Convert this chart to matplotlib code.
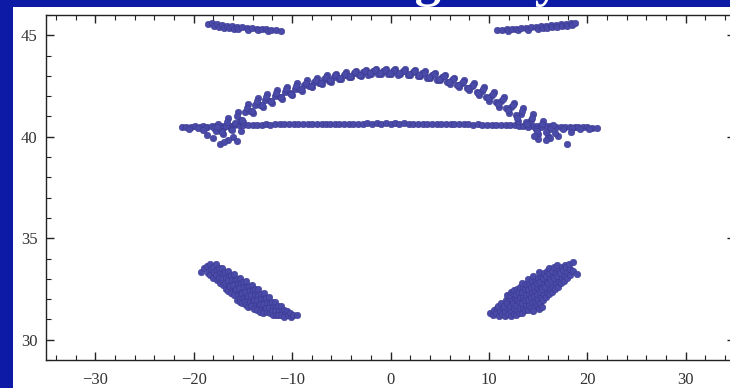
import matplotlib
matplotlib.use("Agg")
import matplotlib.pyplot as plt
from matplotlib.patches import Rectangle
from matplotlib.ticker import MultipleLocator

# ---- data ----
line_x = [-21.2, -20.8, -20.3, -19.9, -19.4, -19.0, -18.6, -18.1, -17.7, -17.2, -16.8, -16.3,
          -15.9, -15.4, -15.0, -14.5, -14.0, -13.6, -13.1, -12.6, -12.2, -11.7, -11.2, -10.8,
          -10.3, -9.8, -9.4, -8.9, -8.4, -8.0, -7.5, -7.0, -6.6, -6.1, -5.6, -5.2, -4.7, -4.2,
          -3.8, -3.3, -2.8, -2.4, -1.9, -1.4, -1.0, -0.5, 0.0, 0.5, 0.9, 1.4, 1.9, 2.3, 2.8,
          3.3, 3.7, 4.2, 4.7, 5.1, 5.6, 6.1, 6.5, 7.0, 7.5, 7.9, 8.4, 8.9, 9.3, 9.8, 10.3,
          10.7, 11.2, 11.7, 12.1, 12.6, 13.1, 13.5, 14.0, 14.5, 14.9, 15.4, 15.9, 16.3, 16.8,
          17.3, 17.7, 18.2, 18.7, 19.1, 19.6, 20.0, 20.5, 21.0,
          -20.5, -19.6, -18.8, -17.9, -17.0, 17.5, 18.4, 19.3, 20.2]
line_y = [40.48, 40.50, 40.47, 40.51, 40.49, 40.52, 40.50, 40.53, 40.51, 40.54, 40.52, 40.55,
          40.56, 40.58, 40.57, 40.59, 40.58, 40.60, 40.59, 40.61, 40.60, 40.62, 40.61, 40.62,
          40.61, 40.63, 40.62, 40.63, 40.62, 40.64, 40.63, 40.64, 40.63, 40.64, 40.65, 40.64,
          40.65, 40.64, 40.65, 40.64, 40.65, 40.66, 40.65, 40.66, 40.65, 40.66, 40.65, 40.66,
          40.65, 40.66, 40.65, 40.65, 40.64, 40.65, 40.64, 40.64, 40.63, 40.64, 40.63, 40.63,
          40.62, 40.62, 40.61, 40.62, 40.60, 40.61, 40.59, 40.60, 40.58, 40.59, 40.57, 40.58,
          40.56, 40.57, 40.55, 40.54, 40.55, 40.53, 40.54, 40.52, 40.51, 40.52, 40.50, 40.49,
          40.50, 40.48, 40.47, 40.48, 40.46, 40.47, 40.45, 40.44,
          40.40, 40.42, 40.43, 40.41, 40.45, 40.40, 40.41, 40.39, 40.38]

arc_x = [-18.0, -17.0, -16.0, -15.0, -14.0, -13.0, -12.0, -11.0, -10.0, -9.0, -8.0, -7.0,
         -6.0, -5.0, -4.0, -3.0, -2.0, -1.0, 0.0, 1.0, 2.0, 3.0, 4.0, 5.0, 6.0, 7.0, 8.0,
         9.0, 10.0, 11.0, 12.0, 13.0, 14.0, 15.0, 16.0, 17.0,
         -17.5, -16.5, -15.5, -14.5, -13.5, -12.5, -11.5, -10.5, -9.5, -8.5, -7.5, -6.5,
         -5.5, -4.5, -3.5, -2.5, -1.5, -0.5, 0.5, 1.5, 2.5, 3.5, 4.5, 5.5, 6.5, 7.5, 8.5,
         9.5, 10.5, 11.5, 12.5, 13.5, 14.5, 15.5, 16.5,
         -17.75, -16.75, -15.75, -14.75, -13.75, -12.75, -11.75, -10.75, -9.75, -8.75,
         -7.75, -6.75, -5.75, -4.75, -3.75, -2.75, -1.75, -0.75, 0.25, 1.25, 2.25, 3.25,
         4.25, 5.25, 6.25, 7.25, 8.25, 9.25, 10.25, 11.25, 12.25, 13.25, 14.25, 15.25, 16.25,
         -17.25, -16.25, -15.25, -14.25, -13.25, -12.25, -11.25, -10.25, -9.25, -8.25,
         -7.25, -6.25, -5.25, -4.25, -3.25, -2.25, -1.25, -0.25, 0.75, 1.75, 2.75, 3.75,
         4.75, 5.75, 6.75, 7.75, 8.75, 9.75, 10.75, 11.75, 12.75, 13.75, 14.75, 15.75, 16.75,
         -17.6, -16.6, -15.6, -14.6, -13.6, -12.6, -11.6, -10.6, -9.6, -8.6, -7.6, -6.6,
         -5.6, -4.6, -3.6, -2.6, -1.6, -0.6, 0.4, 1.4, 2.4, 3.4, 4.4, 5.4, 6.4, 7.4, 8.4,
         9.4, 10.4, 11.4, 12.4, 13.4, 14.4, 15.4,
         -17.1, -16.1, -15.1, -14.1, -13.1, -12.1, -11.1, -10.1, -9.1, -8.1, -7.1, -6.1,
         -5.1, -4.1, -3.1, -2.1, -1.1, -0.1, 0.9, 1.9, 2.9, 3.9, 4.9, 5.9, 6.9, 7.9, 8.9,
         9.9, 10.9, 11.9, 12.9, 13.9, 14.9,
         -17.3, -15.6, -16.5, 17.9, 16.2, -18.6, -19.0, 18.3, 15.0, 15.8, 14.6, -16.9, -15.2]
arc_y = [39.95, 40.15, 40.00, 40.75, 41.18, 41.47, 41.67, 41.88, 42.05, 42.27, 42.44, 42.60,
         42.72, 42.85, 42.96, 43.01, 43.07, 43.09, 43.09, 43.07, 43.04, 42.98, 42.90, 42.78,
         42.60, 42.44, 42.28, 42.05, 41.78, 41.49, 41.15, 40.77, 40.48, 40.12, 40.03, 40.05,
         40.65, 40.93, 41.23, 41.63, 41.92, 42.13, 42.32, 42.47, 42.64, 42.80, 42.92, 43.03,
         43.11, 43.20, 43.26, 43.31, 43.34, 43.35, 43.34, 43.33, 43.29, 43.23, 43.16, 43.06,
         42.92, 42.80, 42.63, 42.43, 42.21, 41.98, 41.68, 41.42, 41.10, 40.77, 40.60,
         40.30, 40.55, 40.70, 41.20, 41.58, 41.82, 42.02, 42.20, 42.37, 42.56,
         42.70, 42.85, 42.95, 43.05, 43.14, 43.19, 43.24, 43.26, 43.26, 43.24, 43.20, 43.14,
         43.06, 42.95, 42.80, 42.65, 42.48, 42.27, 42.03, 41.78, 41.46, 41.12, 40.85, 40.50, 40.38,
         40.30, 40.40, 40.85, 41.25, 41.55, 41.78, 41.98, 42.15, 42.33, 42.50,
         42.63, 42.75, 42.85, 42.95, 43.02, 43.06, 43.08, 43.08, 43.06, 43.04, 42.98, 42.92,
         42.82, 42.70, 42.55, 42.40, 42.20, 41.95, 41.70, 41.40, 41.07, 40.75, 40.40, 40.25, 40.20,
         40.47, 40.74, 41.00, 41.43, 41.75, 41.97, 42.17, 42.34, 42.50, 42.67, 42.81, 42.93,
         43.02, 43.11, 43.19, 43.24, 43.27, 43.28, 43.27, 43.25, 43.23, 43.16, 43.09, 42.98,
         42.84, 42.70, 42.54, 42.33, 42.10, 41.85, 41.55, 41.25, 40.94, 40.62,
         40.25, 40.32, 40.82, 41.26, 41.55, 41.75, 41.96, 42.13, 42.33, 42.50, 42.66, 42.78,
         42.89, 43.00, 43.06, 43.12, 43.14, 43.14, 43.12, 43.10, 43.04, 42.96, 42.85, 42.69,
         42.54, 42.38, 42.16, 41.91, 41.63, 41.31, 40.94, 40.65, 40.30,
         39.65, 39.80, 39.85, 39.65, 39.95, 40.10, 40.35, 40.25, 39.90, 39.85, 40.05, 39.75, 40.30]

left_blob_x = [-19.3, -18.9, -18.6, -18.52, -18.3, -18.22, -18.36, -18.0, -17.92, -18.06,
               -17.7, -17.62, -17.76, -17.6, -17.4, -17.32, -17.46, -17.3,
               -17.1, -17.02, -17.16, -17.0, -16.8, -16.72, -16.86, -16.7,
               -16.5, -16.42, -16.56, -16.4, -16.54, -16.2, -16.12, -16.26, -16.1, -16.24,
               -15.9, -15.82, -15.96, -15.8, -15.94, -15.6, -15.52, -15.66, -15.5, -15.64,
               -15.3, -15.22, -15.36, -15.2, -15.34, -15.25, -15.0, -14.92, -15.06, -14.9, -15.04,
               -14.7, -14.62, -14.76, -14.6, -14.74, -14.65, -14.4, -14.32, -14.46, -14.3, -14.44,
               -14.1, -14.02, -14.16, -14.0, -14.14, -13.8, -13.72, -13.86, -13.7, -13.84,
               -13.5, -13.42, -13.56, -13.4, -13.54, -13.2, -13.12, -13.26, -13.1, -13.24,
               -12.9, -12.82, -12.96, -12.8, -12.94, -12.6, -12.52, -12.66, -12.5,
               -12.3, -12.22, -12.36, -12.2, -12.0, -11.92, -12.06, -11.9,
               -11.7, -11.62, -11.76, -11.6, -11.4, -11.32, -11.46, -11.1, -11.02, -11.16,
               -10.8, -10.72, -10.86, -10.5, -10.42, -10.2, -10.12, -9.9, -9.5]
left_blob_y = [33.33, 33.52, 33.62, 33.30, 33.74, 33.47, 33.18, 33.60, 33.33, 33.05,
               33.72, 33.45, 33.18, 32.92, 33.55, 33.30, 33.04, 32.80,
               33.52, 33.25, 32.98, 32.70, 33.32, 33.05, 32.78, 32.52,
               33.40, 33.15, 32.90, 32.64, 32.40, 33.18, 32.92, 32.66, 32.40, 32.28,
               33.22, 32.96, 32.70, 32.44, 32.18, 33.00, 32.74, 32.48, 32.22, 31.98,
               33.05, 32.80, 32.54, 32.28, 32.02, 31.88, 32.84, 32.58, 32.32, 32.06, 31.82,
               32.88, 32.62, 32.36, 32.10, 31.84, 31.70, 32.66, 32.40, 32.14, 31.88, 31.62,
               32.70, 32.44, 32.18, 31.92, 31.66, 32.48, 32.22, 31.96, 31.70, 31.50,
               32.48, 32.22, 31.96, 31.70, 31.46, 32.26, 32.00, 31.74, 31.50, 31.38,
               32.28, 32.02, 31.76, 31.52, 31.34, 32.06, 31.80, 31.56, 31.38,
               32.08, 31.82, 31.58, 31.34, 31.86, 31.62, 31.40, 31.24,
               31.86, 31.62, 31.40, 31.22, 31.64, 31.42, 31.22, 31.64, 31.42, 31.20,
               31.46, 31.26, 31.12, 31.42, 31.22, 31.30, 31.12, 31.24, 31.20]

right_blob_x = [10.1, 10.4, 10.48, 10.7, 10.78, 11.0, 11.08, 10.94, 11.3, 11.38, 11.24,
                11.6, 11.68, 11.54, 11.7, 11.9, 11.98, 11.84, 12.0, 11.86,
                12.2, 12.28, 12.14, 12.3, 12.16, 12.25, 12.5, 12.58, 12.44, 12.6, 12.46, 12.55,
                12.8, 12.88, 12.74, 12.9, 12.76, 12.85, 13.1, 13.18, 13.04, 13.2, 13.06, 13.15,
                13.4, 13.48, 13.34, 13.5, 13.36, 13.45, 13.32, 13.7, 13.78, 13.64, 13.8, 13.66, 13.75,
                14.0, 14.08, 13.94, 14.1, 13.96, 14.05, 13.92, 14.3, 14.38, 14.24, 14.4, 14.26, 14.35,
                14.6, 14.68, 14.54, 14.7, 14.56, 14.65, 14.52, 14.9, 14.98, 14.84, 15.0, 14.86, 14.95,
                15.2, 15.28, 15.14, 15.3, 15.16, 15.25, 15.12, 15.5, 15.58, 15.44, 15.6, 15.46, 15.55,
                15.8, 15.88, 15.74, 15.9, 15.76, 15.85, 16.1, 16.18, 16.04, 16.2, 16.06, 16.15,
                16.4, 16.48, 16.34, 16.5, 16.36, 16.7, 16.78, 16.64, 16.8, 16.66,
                17.0, 17.08, 16.94, 17.1, 16.96, 17.3, 17.38, 17.24, 17.4,
                17.6, 17.68, 17.54, 17.7, 17.9, 17.98, 17.84, 18.2, 18.28, 18.14,
                18.5, 18.58, 18.9, 14.45, 15.05, 15.4]
right_blob_y = [31.30, 31.22, 31.46, 31.30, 31.55, 31.16, 31.42, 31.68, 31.28, 31.54, 31.80,
                31.16, 31.42, 31.68, 31.94, 31.28, 31.54, 31.80, 32.06, 32.22,
                31.16, 31.42, 31.68, 31.94, 32.20, 32.34, 31.28, 31.54, 31.80, 32.06, 32.32, 32.46,
                31.20, 31.46, 31.72, 31.98, 32.24, 32.50, 31.32, 31.58, 31.84, 32.10, 32.36, 32.62,
                31.30, 31.56, 31.82, 32.08, 32.34, 32.60, 32.78, 31.44, 31.70, 31.96, 32.22, 32.48, 32.74,
                31.45, 31.71, 31.97, 32.23, 32.49, 32.75, 32.98, 31.58, 31.84, 32.10, 32.36, 32.62, 32.88,
                31.62, 31.88, 32.14, 32.40, 32.66, 32.92, 33.12, 31.75, 32.01, 32.27, 32.53, 32.79, 33.05,
                31.82, 32.08, 32.34, 32.60, 32.86, 33.12, 33.32, 31.98, 32.24, 32.50, 32.76, 33.02, 33.28,
                32.08, 32.34, 32.60, 32.86, 33.12, 33.38, 32.26, 32.52, 32.78, 33.04, 33.30, 33.52,
                32.35, 32.61, 32.87, 33.13, 33.39, 32.52, 32.78, 33.04, 33.30, 33.58,
                32.62, 32.88, 33.14, 33.40, 33.66, 32.78, 33.04, 33.30, 33.56,
                32.90, 33.16, 33.42, 33.70, 33.06, 33.32, 33.58, 33.20, 33.46, 33.72,
                33.40, 33.82, 33.25, 31.40, 31.50, 31.62]

top_left_x = [-18.5, -18.1, -17.95, -17.6, -17.45, -17.1, -16.95, -16.6, -16.45, -16.1, -15.95,
              -15.6, -15.45, -15.1, -14.6, -14.45, -14.1, -13.6, -13.45, -13.1, -12.6, -12.45,
              -12.1, -11.6, -11.1]
top_left_y = [45.55, 45.60, 45.45, 45.55, 45.42, 45.50, 45.38, 45.48, 45.35, 45.45, 45.33,
              45.42, 45.30, 45.40, 45.38, 45.28, 45.35, 45.33, 45.25, 45.30, 45.30, 45.22,
              45.27, 45.25, 45.22]

top_right_x = [10.8, 11.3, 11.8, 11.95, 12.3, 12.8, 12.95, 13.3, 13.8, 13.95, 14.3, 14.8,
               14.95, 15.3, 15.45, 15.8, 15.95, 16.3, 16.45, 16.8, 16.95, 17.3, 17.45, 17.8,
               17.95, 18.3, 18.45, 18.7]
top_right_y = [45.25, 45.27, 45.30, 45.22, 45.32, 45.33, 45.25, 45.35, 45.38, 45.28, 45.40,
               45.42, 45.32, 45.45, 45.35, 45.47, 45.38, 45.50, 45.40, 45.52, 45.42, 45.55,
               45.45, 45.58, 45.48, 45.60, 45.50, 45.62]

x_ticks = [-30, -20, -10, 0, 10, 20, 30]
x_tick_labels = ["\u221230", "\u221220", "\u221210", "0", "10", "20", "30"]
y_ticks = [30, 35, 40, 45]

groups = [(line_x, line_y), (arc_x, arc_y), (left_blob_x, left_blob_y),
          (right_blob_x, right_blob_y), (top_left_x, top_left_y), (top_right_x, top_right_y)]

serif = ["Liberation Serif", "DejaVu Serif"]
W, H = 730, 388
fig = plt.figure(figsize=(W / 100, H / 100), dpi=100)
fig.patch.set_facecolor("#0c1aa6")

# white slide panel behind the plot
fig.patches.append(Rectangle((13 / W, 0), 1, 1 - 7 / H, transform=fig.transFigure,
                             facecolor="white", edgecolor="none", zorder=-10))
# slide title, almost entirely above the top edge of the picture
fig.text(359 / W, 1 + 4 / H, "Highway", color="white", fontsize=38, fontweight="bold",
         family=serif, ha="left", va="baseline", zorder=-5)

left, right = 46 / W, 735 / W
bottom, top = 1 - 360 / H, 1 - 15 / H
ax = fig.add_axes([left, bottom, right - left, top - bottom])
ax.set_facecolor("none")

for xs, ys in groups:
    ax.scatter(xs, ys, s=22, facecolor="#4a4aa8", edgecolor="#3a3a92", linewidth=0.4,
               zorder=3, clip_on=False)

ax.set_xticks(x_ticks)
ax.set_xticklabels(x_tick_labels, family=serif)
ax.set_yticks(y_ticks)
ax.set_yticklabels([str(v) for v in y_ticks], family=serif)
ax.xaxis.set_minor_locator(MultipleLocator(2))
ax.yaxis.set_minor_locator(MultipleLocator(1))
ax.set_xlim(-35, 35)
ax.set_ylim(29, 46)
ax.tick_params(which="both", direction="in", top=True, right=True, color="#222222",
               labelsize=12, labelcolor="#333333")
ax.tick_params(axis="x", pad=9)
ax.tick_params(axis="y", pad=6)
ax.tick_params(which="major", length=6, width=1)
ax.tick_params(which="minor", length=3.5, width=0.8)
for sp in ax.spines.values():
    sp.set_color("#222222")
    sp.set_linewidth(1)

fig.savefig("out.png", dpi=100, facecolor=fig.get_facecolor())
